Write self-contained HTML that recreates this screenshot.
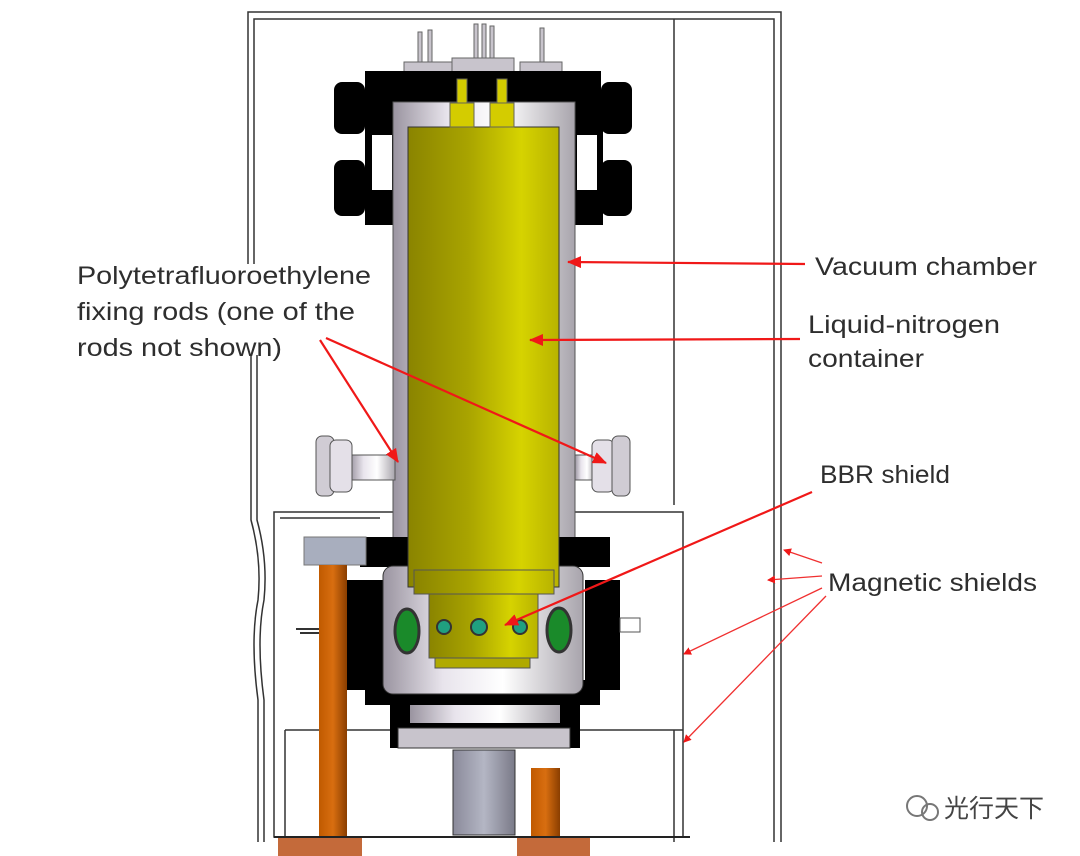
<!DOCTYPE html>
<html><head><meta charset="utf-8"><style>
html,body{margin:0;padding:0;background:#fff;}
svg{display:block;}
text{font-family:"Liberation Sans","Noto Sans CJK SC",sans-serif;fill:#2e2e2e;}
</style></head><body>
<svg width="1080" height="856" viewBox="0 0 1080 856" xmlns="http://www.w3.org/2000/svg">
<defs>
<linearGradient id="yel" x1="0" x2="1"><stop offset="0" stop-color="#8a8400"/><stop offset="0.4" stop-color="#a9a400"/><stop offset="0.75" stop-color="#d6d300"/><stop offset="1" stop-color="#b8b300"/></linearGradient>
<linearGradient id="sil" x1="0" x2="1"><stop offset="0" stop-color="#9a94a0"/><stop offset="0.3" stop-color="#e8e4ec"/><stop offset="0.6" stop-color="#ffffff"/><stop offset="1" stop-color="#a8a4ac"/></linearGradient>
<linearGradient id="cu" x1="0" x2="1"><stop offset="0" stop-color="#c05a00"/><stop offset="0.5" stop-color="#d86e10"/><stop offset="1" stop-color="#8a3e00"/></linearGradient>
<linearGradient id="gr" x1="0" x2="1"><stop offset="0" stop-color="#8a8a9a"/><stop offset="0.5" stop-color="#b4b6c4"/><stop offset="1" stop-color="#7a7a88"/></linearGradient>
<marker id="ah" markerWidth="8" markerHeight="8" refX="7" refY="4" orient="auto" markerUnits="userSpaceOnUse"><path d="M0,0 L8,4 L0,8 z" fill="#f01818"/></marker>
<marker id="ah2" markerWidth="14" markerHeight="12" refX="13" refY="6" orient="auto" markerUnits="userSpaceOnUse"><path d="M0,0 L14,6 L0,12 z" fill="#f01818"/></marker>
</defs>
<g fill="none" stroke="#333" stroke-width="1.5">
<path d="M248,264 V12 H781 V842"/>
<path d="M254,264 V19 H774 V842"/>
<path d="M674,19 V505"/>
<path d="M251,355 V520 Q262,560 258,600 Q250,640 258,700 V842"/>
<path d="M257,355 V520 Q268,560 264,600 Q256,640 264,700 V842"/>
<path d="M674,730 V842"/>
</g>
<g fill="none" stroke="#333" stroke-width="1.5">
<path d="M274,512 H683 V837 H274 Z"/>
<path d="M280,518 H380"/>
<path d="M285,730 H683"/>
<path d="M285,730 V837"/>
</g>
<g fill="#c8c4cc" stroke="#666" stroke-width="1">
<rect x="404" y="62" width="48" height="10"/>
<rect x="452" y="58" width="62" height="14"/>
<rect x="520" y="62" width="42" height="10"/>
<rect x="418" y="32" width="4" height="30"/><rect x="428" y="30" width="4" height="32"/>
<rect x="474" y="24" width="4" height="34"/><rect x="482" y="24" width="4" height="34"/><rect x="490" y="26" width="4" height="32"/>
<rect x="540" y="28" width="4" height="34"/>
</g>
<g fill="#000">
<rect x="365" y="71" width="236" height="31"/>
<rect x="334" y="82" width="31" height="52" rx="8"/><rect x="334" y="160" width="31" height="56" rx="8"/>
<rect x="601" y="82" width="31" height="52" rx="8"/><rect x="601" y="160" width="31" height="56" rx="8"/>
<rect x="365" y="95" width="28" height="130"/><rect x="575" y="95" width="28" height="130"/>
</g>
<rect x="372" y="135" width="20" height="55" fill="#fff"/><rect x="577" y="135" width="20" height="55" fill="#fff"/>
<rect x="393" y="102" width="182" height="440" fill="url(#sil)" stroke="#555"/>
<g stroke="#555" stroke-width="1">
<rect x="350" y="455" width="45" height="25" fill="url(#sil)"/>
<rect x="575" y="455" width="20" height="25" fill="url(#sil)"/>
<rect x="316" y="436" width="18" height="60" rx="6" fill="#d0ccd4"/>
<rect x="330" y="440" width="22" height="52" rx="6" fill="#e4e0e8"/>
<rect x="592" y="440" width="22" height="52" rx="6" fill="#e4e0e8"/>
<rect x="612" y="436" width="18" height="60" rx="6" fill="#d0ccd4"/>
</g>
<g fill="#000">
<rect x="360" y="537" width="250" height="30"/>
<rect x="345" y="580" width="40" height="110"/>
<rect x="585" y="580" width="35" height="110"/>
<rect x="365" y="680" width="235" height="25"/>
<rect x="390" y="700" width="190" height="48"/>
</g>
<rect x="383" y="566" width="200" height="128" rx="10" fill="url(#sil)" stroke="#333"/>
<rect x="410" y="705" width="150" height="18" fill="url(#sil)"/>
<rect x="398" y="728" width="172" height="20" fill="#c8c4cc" stroke="#333"/>
<ellipse cx="407" cy="631" rx="12" ry="22" fill="#1a8a2a" stroke="#333" stroke-width="3"/>
<ellipse cx="559" cy="630" rx="12" ry="22" fill="#1a8a2a" stroke="#333" stroke-width="3"/>
<path d="M300,633 H345 M296,629 H345" stroke="#333" stroke-width="2"/>
<rect x="620" y="618" width="20" height="14" fill="#fff" stroke="#555"/>
<rect x="408" y="127" width="151" height="460" fill="url(#yel)" stroke="#333"/>
<rect x="414" y="570" width="140" height="24" fill="url(#yel)" stroke="#555"/>
<rect x="429" y="594" width="109" height="64" fill="url(#yel)" stroke="#555"/>
<rect x="435" y="658" width="95" height="10" fill="#b0aa00" stroke="#555"/>
<circle cx="444" cy="627" r="7" fill="#20a080" stroke="#333" stroke-width="2"/>
<circle cx="479" cy="627" r="8" fill="#20a080" stroke="#333" stroke-width="2"/>
<circle cx="520" cy="627" r="7" fill="#20a080" stroke="#333" stroke-width="2"/>
<g fill="#d4cc00" stroke="#665" stroke-width="1">
<rect x="457" y="79" width="10" height="28"/><rect x="450" y="103" width="24" height="24"/>
<rect x="497" y="79" width="10" height="28"/><rect x="490" y="103" width="24" height="24"/>
</g>
<rect x="453" y="750" width="62" height="85" fill="url(#gr)" stroke="#333"/>
<rect x="304" y="537" width="62" height="28" fill="#a8aebe" stroke="#777"/>
<rect x="319" y="565" width="28" height="272" fill="url(#cu)"/>
<rect x="531" y="768" width="29" height="69" fill="url(#cu)"/>
<rect x="278" y="838" width="84" height="18" fill="#c46a3a"/>
<rect x="517" y="838" width="73" height="18" fill="#c46a3a"/>
<line x1="274" y1="837" x2="690" y2="837" stroke="#222" stroke-width="2"/>
<g stroke="#f01818" stroke-width="2.2" fill="none">
<line x1="805" y1="264" x2="568" y2="262" marker-end="url(#ah2)"/>
<line x1="800" y1="339" x2="530" y2="340" marker-end="url(#ah2)"/>
<line x1="320" y1="340" x2="398" y2="462" marker-end="url(#ah2)"/>
<line x1="326" y1="338" x2="606" y2="463" marker-end="url(#ah2)"/>
<line x1="812" y1="492" x2="505" y2="625" marker-end="url(#ah2)"/>
</g>
<g stroke="#f03030" stroke-width="1.3" fill="none">
<line x1="822" y1="563" x2="784" y2="550" marker-end="url(#ah)"/>
<line x1="822" y1="576" x2="768" y2="580" marker-end="url(#ah)"/>
<line x1="822" y1="588" x2="684" y2="654" marker-end="url(#ah)"/>
<line x1="826" y1="596" x2="684" y2="742" marker-end="url(#ah)"/>
</g>
<g font-size="25">
<text x="77" y="284" textLength="294" lengthAdjust="spacingAndGlyphs">Polytetrafluoroethylene</text>
<text x="77" y="320" textLength="278" lengthAdjust="spacingAndGlyphs">fixing rods (one of the</text>
<text x="77" y="356" textLength="205" lengthAdjust="spacingAndGlyphs">rods not shown)</text>
<text x="815" y="275" textLength="222" lengthAdjust="spacingAndGlyphs">Vacuum chamber</text>
<text x="808" y="333" textLength="192" lengthAdjust="spacingAndGlyphs">Liquid-nitrogen</text>
<text x="808" y="367" textLength="116" lengthAdjust="spacingAndGlyphs">container</text>
<text x="820" y="483" textLength="130" lengthAdjust="spacingAndGlyphs">BBR shield</text>
<text x="828" y="591" textLength="209" lengthAdjust="spacingAndGlyphs">Magnetic shields</text>
</g>
<g>
<circle cx="917" cy="806" r="10" fill="none" stroke="#777" stroke-width="2"/>
<circle cx="930" cy="812" r="8" fill="none" stroke="#777" stroke-width="2"/>
<text x="944" y="817" font-size="25" style="fill:#444">光行天下</text>
</g>
</svg>
</body></html>
